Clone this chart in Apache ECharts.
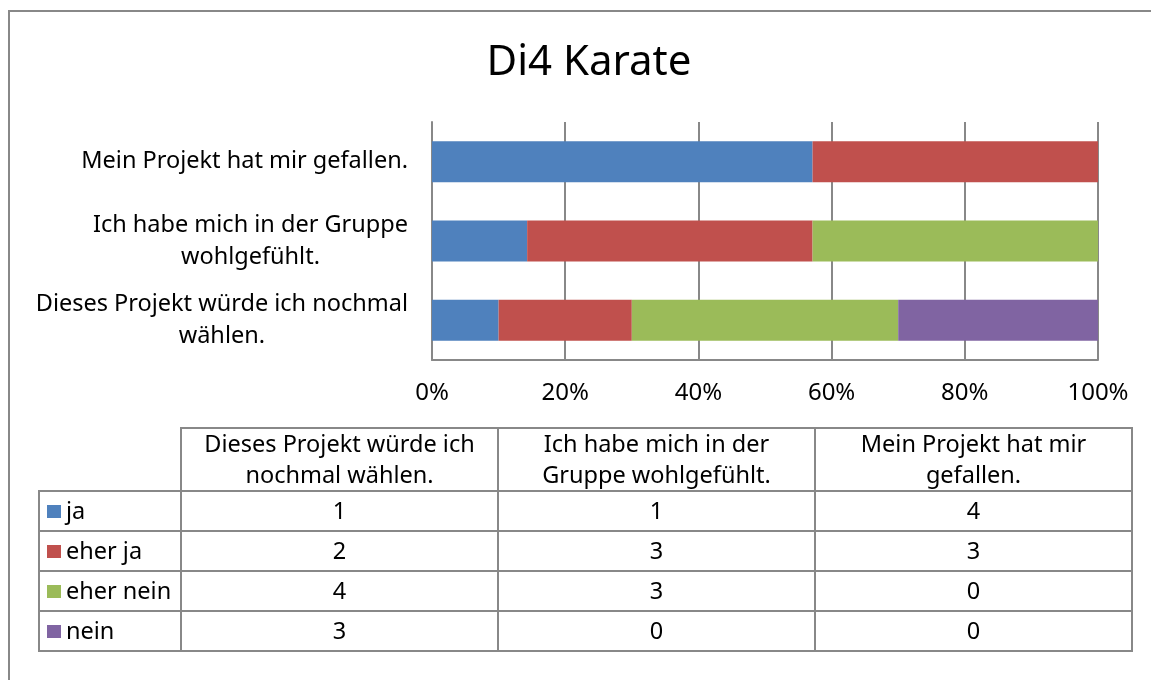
<!DOCTYPE html>
<html>
<head>
<meta charset="utf-8">
<script src="https://cdn.jsdelivr.net/npm/echarts@6/dist/echarts.min.js"></script>
<style>
html,body{margin:0;padding:0;background:#fff;}
#c{width:1151px;height:680px;}
</style>
</head>
<body>
<div id="c"></div>
<script>
// ---- data ----
const title = "Di4 Karate";
const categories = ["Dieses Projekt würde ich nochmal wählen.", "Ich habe mich in der Gruppe wohlgefühlt.", "Mein Projekt hat mir gefallen."];
const axisLabelLines = [["Dieses Projekt würde ich nochmal", "wählen."], ["Ich habe mich in der Gruppe", "wohlgefühlt."], ["Mein Projekt hat mir gefallen."]];
const tableHeaderLines = [["Dieses Projekt würde ich", "nochmal wählen."], ["Ich habe mich in der", "Gruppe wohlgefühlt."], ["Mein Projekt hat mir", "gefallen."]];
const seriesNames = ["ja", "eher ja", "eher nein", "nein"];
const ja = [1, 1, 4];
const eherJa = [2, 3, 3];
const eherNein = [4, 3, 0];
const nein = [3, 0, 0];
const xTicks = [0, 20, 40, 60, 80, 100];
const colors = ["#4F81BD", "#C0504D", "#9BBB59", "#8064A2"];

// ---- build ----
const counts = [ja, eherJa, eherNein, nein];
const totals = categories.map((_, i) => counts.reduce((s, arr) => s + arr[i], 0));
const pct = counts.map(arr => arr.map((v, i) => v / totals[i] * 100));

const FONT = '"Noto Sans", sans-serif';
const FS = 23.5;
const GRAY = '#888888';

// table layout
const tLeft = 39, tCol0 = 181, colW = 317, tTop = 428, headH = 63, rowH = 40;
const graphics = [];
// outer chart border
graphics.push({type:'rect', shape:{x:9, y:11, width:1300, height:1000}, style:{fill:'none', stroke:GRAY, lineWidth:2}, silent:true});
// header cells
tableHeaderLines.forEach((lines, j) => {
  graphics.push({type:'rect', shape:{x:tCol0 + j*colW, y:tTop, width:colW, height:headH}, style:{fill:'none', stroke:GRAY, lineWidth:2}});
  graphics.push({type:'text', x: tCol0 + j*colW + colW/2, y: tTop + headH/2 + 1,
    style:{text: lines.join('\n'), align:'center', verticalAlign:'middle', font: FS + 'px ' + FONT, fill:'#000', lineHeight:31}});
});
// data rows
seriesNames.forEach((name, i) => {
  const y = tTop + headH + i*rowH;
  graphics.push({type:'rect', shape:{x:tLeft, y:y, width:tCol0 - tLeft, height:rowH}, style:{fill:'none', stroke:GRAY, lineWidth:2}});
  graphics.push({type:'rect', shape:{x:47, y:y + 14, width:14, height:13}, style:{fill:colors[i]}});
  graphics.push({type:'text', x:66, y:y + rowH/2 + 1, style:{text:name, align:'left', verticalAlign:'middle', font:FS + 'px ' + FONT, fill:'#000'}});
  counts[i].forEach((v, j) => {
    graphics.push({type:'rect', shape:{x:tCol0 + j*colW, y:y, width:colW, height:rowH}, style:{fill:'none', stroke:GRAY, lineWidth:2}});
    graphics.push({type:'text', x:tCol0 + j*colW + colW/2, y:y + rowH/2 + 1, style:{text:String(v), align:'center', verticalAlign:'middle', font:FS + 'px ' + FONT, fill:'#000'}});
  });
});

const chart = echarts.init(document.getElementById('c'), null, {renderer:'canvas'});
chart.setOption({
  backgroundColor:'#fff',
  animation:false,
  textStyle:{fontFamily:FONT},
  title:{text:title, left:584, top:37, textAlign:'center', textStyle:{fontSize:42, fontWeight:'normal', color:'#000', fontFamily:FONT}},
  grid:{left:432, right:53, top:122, bottom:320, containLabel:false},
  xAxis:{type:'value', min:0, max:100, interval:20,
    axisLabel:{formatter: v => xTicks.includes(v) ? v + '%' : '', fontSize:24, color:'#000', margin:21, fontFamily:FONT},
    axisLine:{show:true, lineStyle:{color:GRAY, width:2}},
    axisTick:{show:false},
    splitLine:{show:true, lineStyle:{color:GRAY, width:2}}},
  yAxis:{type:'category', data:categories,
    axisLine:{show:true, lineStyle:{color:GRAY, width:2}},
    axisTick:{show:false},
    axisLabel:{margin:24, color:'#000', fontSize:FS, fontFamily:FONT, align:'right',
      formatter:(v, idx) => axisLabelLines[idx].map(l => '{c|' + l + '}').join('\n'),
      rich:{c:{align:'center', fontSize:FS, lineHeight:32, color:'#000', fontFamily:FONT}}}},
  series: seriesNames.map((n, i) => ({
    name:n, type:'bar', stack:'total', barWidth:41, data:pct[i],
    itemStyle:{color:colors[i]}
  })),
  graphic: graphics
});
</script>
</body>
</html>
